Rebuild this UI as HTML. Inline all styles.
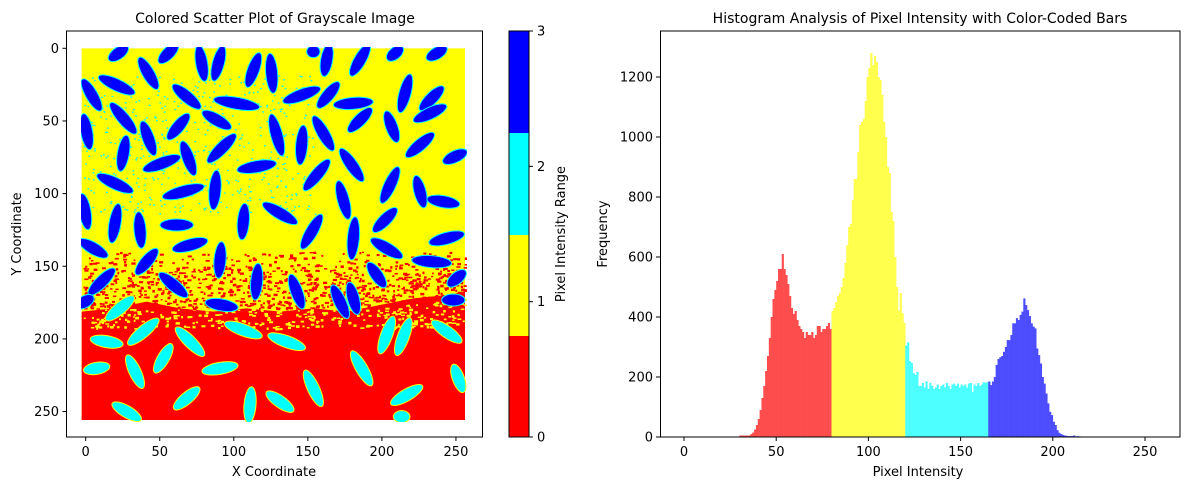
<!DOCTYPE html>
<html><head><meta charset="utf-8">
<style>
body{margin:0;background:#fff;}
svg{display:block;font-family:"DejaVu Sans","Liberation Sans",sans-serif;}
</style></head>
<body>
<svg id="fig" width="1189" height="490" viewBox="0 0 1189 490">
  <rect width="1189" height="490" fill="#fff"/>
  <!-- LEFT PANEL -->
  <text x="275" y="23" font-size="14" text-anchor="middle">Colored Scatter Plot of Grayscale Image</text>
  <defs><clipPath id="imgclip"><rect x="81" y="47" width="386" height="375"/></clipPath></defs>
  <g id="imageLayer" clip-path="url(#imgclip)">
    <g transform="translate(80,45) scale(0.33333)">
      <rect x="5" y="10" width="1150" height="1115" fill="#ffff00"/>
      <polygon fill="#ff0000" points="5,800 100,790 200,770 300,790 400,800 500,790 600,800 700,790 800,800 900,780 1000,760 1100,750 1155,740 1155,1125 5,1125"/>
      <g id="noise"></g>
      <g id="grains"></g>
    </g>
  </g>
  <rect x="66.5" y="31" width="416" height="406" fill="none" stroke="#000" stroke-width="1"/>
  <g id="leftTicks" font-size="13"></g>
  <text x="274" y="476" font-size="13" text-anchor="middle">X Coordinate</text>
  <text transform="translate(21,234) rotate(-90)" font-size="13" text-anchor="middle">Y Coordinate</text>
  <!-- colorbar -->
  <g>
    <rect x="509" y="31" width="20" height="102" fill="#0000ff"/>
    <rect x="509" y="133" width="20" height="102" fill="#00ffff"/>
    <rect x="509" y="235" width="20" height="101" fill="#ffff00"/>
    <rect x="509" y="336" width="20" height="101" fill="#ff0000"/>
    <rect x="509" y="31" width="20" height="406" fill="none" stroke="#000"/>
  </g>
  <g id="cbTicks" font-size="13"></g>
  <text transform="translate(565,234) rotate(-90)" font-size="13" text-anchor="middle">Pixel Intensity Range</text>

  <!-- RIGHT PANEL -->
  <text x="920" y="23" font-size="14" text-anchor="middle">Histogram Analysis of Pixel Intensity with Color-Coded Bars</text>
  <g id="bars"></g>
  <rect x="660.5" y="31" width="519.5" height="406" fill="none" stroke="#000" stroke-width="1"/>
  <g id="histTicks" font-size="13"></g>
  <text x="918" y="476" font-size="13" text-anchor="middle">Pixel Intensity</text>
  <text transform="translate(607,234) rotate(-90)" font-size="13" text-anchor="middle">Frequency</text>
</svg>
<script>
// Histogram data (counts per intensity, starting at binStart)
const binStart = 30;
const counts = [5,5,5,5,5,5,
10,15,25,40,60,90,130,170,220,270,330,400,460,490,520,560,560,610,560,540,510,470,430,410,420,390,370,360,350,330,350,340,340,350,330,340,370,370,350,360,360,370,380,360,
420,430,450,470,480,500,530,580,640,700,710,790,860,860,950,1040,1050,1060,1120,1200,1230,1280,1240,1270,1250,1200,1190,1140,1050,1000,900,880,750,720,600,500,420,480,413,380,
306,316,253,247,213,207,217,170,170,180,165,185,160,180,170,160,165,175,160,170,175,165,180,170,160,175,178,170,178,165,175,170,175,165,178,180,150,175,170,180,170,175,183,180,183,
185,173,185,200,240,260,266,270,284,300,323,323,340,379,379,396,390,407,418,462,440,423,403,379,368,362,295,273,245,200,178,145,112,84,73,51,40,23,14,10,7,5,4,3,3,3,5,2,3,2];
const colorEdges = [80,120,165];
const barColors = ['#ff4d4d','#ffff4d','#4dffff','#4d4dff'];
const histXTicks = [0,50,100,150,200,250];
const histYTicks = [0,200,400,600,800,1000,1200];
const imgXTicks = [0,50,100,150,200,250];
const imgYTicks = [0,50,100,150,200,250];
const cbTicks = [0,1,2,3];

const NS='http://www.w3.org/2000/svg';
function mk(tag,attrs,parent){const e=document.createElementNS(NS,tag);for(const k in attrs)e.setAttribute(k,attrs[k]);parent.appendChild(e);return e;}

// histogram axes
const hx = v => 684 + (v)*1.844;
const hy = v => 437 - v*0.3;
const bars=document.getElementById('bars');
counts.forEach((c,i)=>{
  const v=binStart+i; if(c<=0) return;
  let ci=0; while(ci<colorEdges.length && v>=colorEdges[ci]) ci++;
  const r=mk('rect',{x:hx(v),y:hy(c),width:1.844+0.3,height:437-hy(c),fill:barColors[ci]},bars);
  
  
});
const ht=document.getElementById('histTicks');
histXTicks.forEach(t=>{
  mk('line',{x1:hx(t),x2:hx(t),y1:437,y2:441,stroke:'#000'},ht);
  const tx=mk('text',{x:hx(t),y:456,'text-anchor':'middle'},ht);tx.textContent=t;
  
  
});
histYTicks.forEach(t=>{
  mk('line',{x1:656,x2:660,y1:hy(t),y2:hy(t),stroke:'#000'},ht);
  const tx=mk('text',{x:653,y:hy(t)+4.5,'text-anchor':'end'},ht);tx.textContent=t;
  
  
});

// image axes
const ix = v => 85.7 + v*1.481;
const iy = v => 48.3 + v*1.453;
const lt=document.getElementById('leftTicks');
imgXTicks.forEach(t=>{
  mk('line',{x1:ix(t),x2:ix(t),y1:437,y2:441,stroke:'#000'},lt);
  const tx=mk('text',{x:ix(t),y:456,'text-anchor':'middle'},lt);tx.textContent=t;
  
  
});
imgYTicks.forEach(t=>{
  mk('line',{x1:62.5,x2:66.5,y1:iy(t),y2:iy(t),stroke:'#000'},lt);
  const tx=mk('text',{x:59,y:iy(t)+4.5,'text-anchor':'end'},lt);tx.textContent=t;
  
  
});
const cb=document.getElementById('cbTicks');
cbTicks.forEach(t=>{
  const y=437-t*(406/3);
  mk('line',{x1:529,x2:533,y1:y,y2:y,stroke:'#000'},cb);
  const tx=mk('text',{x:537,y:y+4.5},cb);tx.textContent=t;
  
  
});

// noise speckles
let seed=12345;function rnd(){seed=(seed*1103515245+12345)%2147483648;return seed/2147483648;}
const noise=document.getElementById('noise');
for(let i=0;i<2600;i++){
  const x=5+rnd()*1150, y=620+rnd()*230;
  const boundary=790-(x>850?(x-850)*0.12:0);
  const inRed=y>boundary;
  const p=inRed?0.4:(0.2+0.7*Math.max(0,(y-620)/(boundary-620)));
  if(rnd()<p) mk('rect',{x:x,y:y,width:5+rnd()*8,height:4+rnd()*4,fill:inRed?'#ffff00':'#ff0000'},noise);
}
for(let i=0;i<500;i++){
  const x=5+rnd()*700, y=90+rnd()*420;
  mk('rect',{x:x,y:y,width:5,height:4,fill:'#00ffff'},noise);
}

// grains (zoom-space coords)
const blue=[[115,25,-35,70],[205,85,60,110],[265,25,-45,80],[365,55,80,110],[415,55,-75,110],[520,75,-70,110],[575,85,85,120],[700,20,0,40],[740,45,-80,100],[840,45,-60,110],[945,25,-40,60],[1070,25,-30,70],[110,120,25,120],[35,150,60,110],[320,155,40,110],[470,175,10,140],[665,150,-20,120],[745,150,-50,100],[820,175,-5,120],[975,145,-75,120],[1055,160,-45,100],[130,220,50,120],[205,280,70,110],[295,245,-50,100],[410,225,30,100],[590,270,75,130],[665,300,-85,120],[730,265,60,120],[840,225,-45,100],[935,245,70,100],[1050,205,-25,110],[20,260,80,110],[130,325,-80,110],[245,355,-20,120],[325,340,70,110],[425,310,-45,120],[530,365,-10,120],[710,390,-50,120],[815,360,55,120],[930,420,-65,120],[1020,300,-40,110],[1125,335,-25,80],[105,415,25,120],[310,440,-15,130],[405,435,-85,120],[600,505,30,120],[790,465,75,120],[915,525,-45,100],[1020,440,75,100],[1090,470,10,100],[15,500,80,110],[105,535,-80,120],[180,555,85,110],[290,540,0,100],[490,530,-85,110],[695,560,-60,120],[820,580,-85,130],[1100,580,-15,110],[40,610,30,100],[200,650,-50,100],[330,600,-15,110],[420,645,-85,110],[530,710,-85,110],[920,610,30,110],[1055,650,5,120],[65,710,-45,110],[280,720,40,110],[425,780,10,100],[650,740,70,110],[780,770,65,110],[820,760,75,100],[890,690,55,90],[1130,700,-40,70],[1120,765,0,70],[15,770,-30,60]];
const cyan=[[120,790,-40,110],[190,860,-40,120],[330,890,45,120],[80,890,10,100],[490,855,20,120],[620,890,20,120],[920,870,-70,120],[970,875,-70,120],[1100,860,35,110],[165,980,65,110],[250,940,-60,100],[420,970,-10,110],[50,970,-10,80],[845,970,60,120],[700,1030,65,120],[320,1060,-40,100],[510,1080,-85,110],[600,1070,35,100],[980,1050,-30,110],[1135,1000,70,90],[140,1100,30,100],[965,1115,0,50]];
const g=document.getElementById('grains');
blue.forEach(b=>{
  const e=mk('ellipse',{cx:b[0],cy:b[1],rx:b[3]/2,ry:18,fill:'#0000ff',stroke:'#00ffff','stroke-width':3,transform:`rotate(${b[2]} ${b[0]} ${b[1]})`},g);
  
  
});
cyan.forEach(b=>{
  const e=mk('ellipse',{cx:b[0],cy:b[1],rx:b[3]/2,ry:18,fill:'#00ffff',stroke:'#ffff00','stroke-width':3,transform:`rotate(${b[2]} ${b[0]} ${b[1]})`},g);
  
  
});
</script>
</body></html>
